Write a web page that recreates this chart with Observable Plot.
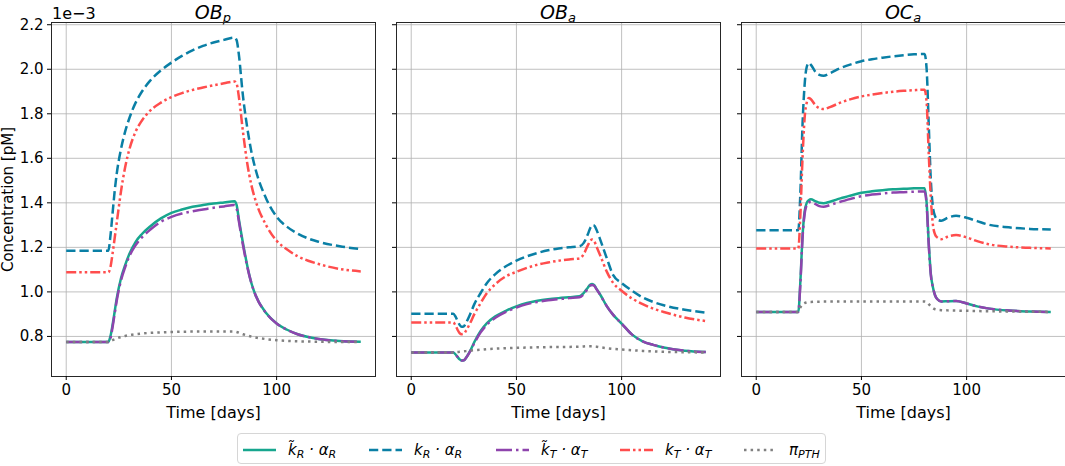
<!DOCTYPE html>
<html>
<head>
<meta charset="utf-8">
<script src="https://cdn.jsdelivr.net/npm/d3@7"></script>
<script src="https://cdn.jsdelivr.net/npm/@observablehq/plot@0.6"></script>
<style>
body { margin: 0; background: #fff; font-family: "DejaVu Sans", sans-serif; }
#fig { position: relative; width: 1065px; height: 466px; overflow: hidden; }
.panel { position: absolute; top: 0; }
.panel g[aria-label="x-axis label"] { font-size: 16px; }
.title { position: absolute; top: 1px; width: 120px; margin-left: -60px; text-align: center;
  font-style: italic; font-size: 19px; line-height: 22px; }
.title sub { font-size: 13px; vertical-align: -3px; line-height: 0; }
#offset { position: absolute; left: 52px; top: 4px; font-size: 16px; }
#legend { position: absolute; left: 237px; top: 433px; width: 589px; height: 31px;
  border: 1px solid #d6d6d6; border-radius: 4px; box-sizing: border-box; }
.item { position: absolute; top: 0; height: 31px; display: flex; align-items: center; }
.item svg { margin-right: 12px; }
.item span { font-style: italic; font-size: 15px; white-space: nowrap; }
.item sub { font-size: 11px; vertical-align: -3px; line-height: 0; font-style: italic; }
</style>
</head>
<body>
<div id="fig">
  <div id="offset">1e−3</div>
  <div class="title" style="left:213px">OB<sub>p</sub></div>
  <div class="title" style="left:558px">OB<sub>a</sub></div>
  <div class="title" style="left:903px">OC<sub>a</sub></div>
  <div id="legend"></div>
</div>
<script>
// concentrations in 1e-3 pM

// OB_p
const obpT      = [0, 20, 21, 22, 23, 24, 26, 28, 30, 33, 36, 40, 45, 50, 55, 60, 65, 70, 75, 80, 81, 82, 84, 86, 88, 90, 95, 100, 105, 110, 115, 120, 130, 140];
const obpKRtil  = [0.775, 0.775, 0.80, 0.85, 0.91, 0.97, 1.06, 1.12, 1.17, 1.225, 1.26, 1.295, 1.33, 1.355, 1.37, 1.382, 1.39, 1.397, 1.402, 1.407, 1.39, 1.33, 1.22, 1.12, 1.04, 0.985, 0.905, 0.858, 0.83, 0.81, 0.797, 0.788, 0.779, 0.776];
const obpKR     = [1.185, 1.185, 1.25, 1.35, 1.45, 1.53, 1.64, 1.72, 1.78, 1.85, 1.90, 1.95, 1.995, 2.03, 2.06, 2.085, 2.105, 2.12, 2.132, 2.142, 2.13, 2.07, 1.88, 1.74, 1.63, 1.55, 1.42, 1.338, 1.292, 1.262, 1.24, 1.225, 1.205, 1.192];
const obpKTtil  = [0.775, 0.775, 0.79, 0.84, 0.90, 0.96, 1.05, 1.11, 1.16, 1.21, 1.245, 1.28, 1.315, 1.337, 1.352, 1.362, 1.37, 1.378, 1.384, 1.39, 1.375, 1.32, 1.21, 1.115, 1.04, 0.985, 0.905, 0.858, 0.83, 0.81, 0.797, 0.788, 0.779, 0.776];
const obpKT     = [1.088, 1.088, 1.11, 1.17, 1.24, 1.31, 1.45, 1.56, 1.64, 1.72, 1.77, 1.815, 1.85, 1.875, 1.893, 1.907, 1.918, 1.928, 1.937, 1.945, 1.935, 1.88, 1.72, 1.58, 1.48, 1.41, 1.30, 1.23, 1.19, 1.16, 1.14, 1.125, 1.103, 1.092];
const obpPTH    = [0.775, 0.775, 0.778, 0.783, 0.787, 0.791, 0.797, 0.802, 0.806, 0.81, 0.813, 0.816, 0.818, 0.82, 0.821, 0.822, 0.822, 0.822, 0.822, 0.822, 0.82, 0.817, 0.81, 0.804, 0.799, 0.795, 0.788, 0.783, 0.78, 0.778, 0.777, 0.776, 0.775, 0.775];

// OB_a
const obaT      = [0, 20, 21, 22, 23, 24, 25, 26, 28, 30, 33, 36, 40, 45, 50, 55, 60, 65, 70, 75, 80, 82, 84, 85, 86, 87, 88, 90, 93, 96, 100, 105, 110, 115, 120, 130, 140];
const obaKRtil  = [0.728, 0.728, 0.72, 0.708, 0.697, 0.692, 0.693, 0.703, 0.735, 0.775, 0.825, 0.86, 0.89, 0.915, 0.935, 0.95, 0.96, 0.967, 0.972, 0.976, 0.98, 0.995, 1.02, 1.032, 1.035, 1.03, 1.015, 0.985, 0.935, 0.897, 0.858, 0.808, 0.778, 0.762, 0.75, 0.736, 0.73];
const obaKR     = [0.902, 0.902, 0.89, 0.87, 0.852, 0.843, 0.845, 0.86, 0.90, 0.945, 0.995, 1.04, 1.08, 1.115, 1.14, 1.16, 1.175, 1.187, 1.195, 1.20, 1.205, 1.22, 1.26, 1.285, 1.30, 1.298, 1.28, 1.23, 1.15, 1.075, 1.04, 1.005, 0.975, 0.955, 0.94, 0.92, 0.907];
const obaKTtil  = [0.728, 0.728, 0.72, 0.708, 0.697, 0.692, 0.693, 0.703, 0.733, 0.77, 0.818, 0.853, 0.884, 0.91, 0.93, 0.945, 0.955, 0.962, 0.967, 0.972, 0.976, 0.99, 1.016, 1.028, 1.031, 1.027, 1.013, 0.984, 0.935, 0.897, 0.858, 0.808, 0.778, 0.762, 0.75, 0.736, 0.73];
const obaKT     = [0.863, 0.863, 0.85, 0.83, 0.815, 0.81, 0.812, 0.825, 0.86, 0.90, 0.95, 0.995, 1.035, 1.07, 1.09, 1.108, 1.122, 1.132, 1.14, 1.146, 1.15, 1.17, 1.21, 1.228, 1.235, 1.228, 1.205, 1.16, 1.09, 1.04, 1.005, 0.97, 0.945, 0.925, 0.91, 0.885, 0.869];
const obaPTH    = [0.728, 0.728, 0.729, 0.73, 0.731, 0.732, 0.733, 0.734, 0.736, 0.738, 0.74, 0.743, 0.745, 0.747, 0.749, 0.75, 0.751, 0.752, 0.752, 0.753, 0.754, 0.755, 0.756, 0.756, 0.756, 0.755, 0.754, 0.751, 0.747, 0.744, 0.741, 0.738, 0.735, 0.733, 0.731, 0.729, 0.728];

// OC_a
const ocaT      = [0, 20, 21, 22, 23, 24, 25, 26, 28, 30, 32, 35, 40, 45, 50, 55, 60, 65, 70, 75, 80, 81, 82, 83, 84, 85, 86, 88, 91, 95, 100, 105, 110, 120, 130, 140];
const ocaKRtil  = [0.91, 0.91, 1.05, 1.25, 1.36, 1.40, 1.412, 1.416, 1.408, 1.40, 1.398, 1.405, 1.42, 1.433, 1.445, 1.452, 1.457, 1.461, 1.463, 1.465, 1.466, 1.40, 1.22, 1.08, 1.02, 0.985, 0.968, 0.957, 0.958, 0.959, 0.948, 0.935, 0.926, 0.916, 0.912, 0.91];
const ocaKR     = [1.277, 1.277, 1.45, 1.75, 1.93, 2.01, 2.028, 2.02, 1.99, 1.975, 1.971, 1.982, 2.005, 2.022, 2.036, 2.045, 2.052, 2.058, 2.063, 2.067, 2.069, 2.00, 1.75, 1.50, 1.38, 1.34, 1.325, 1.32, 1.333, 1.342, 1.333, 1.318, 1.303, 1.29, 1.283, 1.28];
const ocaKTtil  = [0.91, 0.91, 1.04, 1.24, 1.35, 1.39, 1.402, 1.405, 1.395, 1.385, 1.382, 1.39, 1.405, 1.418, 1.43, 1.437, 1.442, 1.446, 1.448, 1.45, 1.451, 1.39, 1.21, 1.075, 1.02, 0.985, 0.968, 0.957, 0.958, 0.959, 0.948, 0.935, 0.926, 0.916, 0.912, 0.91];
const ocaKT     = [1.195, 1.195, 1.35, 1.60, 1.78, 1.85, 1.871, 1.865, 1.84, 1.825, 1.821, 1.83, 1.85, 1.866, 1.878, 1.886, 1.893, 1.899, 1.903, 1.906, 1.908, 1.85, 1.62, 1.42, 1.30, 1.258, 1.245, 1.237, 1.248, 1.255, 1.245, 1.228, 1.215, 1.203, 1.198, 1.195];
const ocaPTH    = [0.91, 0.91, 0.93, 0.944, 0.95, 0.953, 0.955, 0.955, 0.956, 0.956, 0.957, 0.957, 0.957, 0.957, 0.957, 0.957, 0.957, 0.957, 0.957, 0.957, 0.957, 0.955, 0.945, 0.935, 0.927, 0.922, 0.92, 0.918, 0.917, 0.916, 0.915, 0.914, 0.913, 0.912, 0.911, 0.91];

const xTicks = [0, 50, 100];
const yTicks = [0.8, 1.0, 1.2, 1.4, 1.6, 1.8, 2.0, 2.2];

// line styles, in legend order
const styles = [
  {label: "k̃<sub>R</sub> · α<sub>R</sub>", stroke: "#17a68e", dash: null},
  {label: "k<sub>R</sub> · α<sub>R</sub>", stroke: "#0a7fa5", dash: "9.25,4"},
  {label: "k̃<sub>T</sub> · α<sub>T</sub>", stroke: "#8e44ad", dash: "16,4,2.5,4"},
  {label: "k<sub>T</sub> · α<sub>T</sub>", stroke: "#ff4d4d", dash: "10,3,2.5,3,2.5,3"},
  {label: "π<sub>PTH</sub>", stroke: "#808080", dash: "2.5,4.1"}
];

const fig = document.getElementById("fig");

function makePanel(t, cols, left, marginLeft, first) {
  const marks = [
    Plot.gridX(xTicks, {stroke: "#b0b0b0", strokeOpacity: 1, strokeWidth: 0.8}),
    Plot.gridY(yTicks, {stroke: "#b0b0b0", strokeOpacity: 1, strokeWidth: 0.8})
  ];
  cols.forEach((vals, i) => {
    const s = styles[i];
    const rows = t.map((d, j) => ({t: d, v: vals[j]}));
    marks.push(Plot.line(rows, {x: "t", y: "v", stroke: s.stroke, strokeWidth: 2.5,
      strokeDasharray: s.dash, curve: "monotone-x", strokeLinecap: "butt"}));
  });
  marks.push(Plot.frame({stroke: "#262626", strokeWidth: 1}));
  marks.push(Plot.axisX(xTicks, {tickSize: 4, tickPadding: 4, label: "Time [days]",
    labelAnchor: "center", labelArrow: "none", labelOffset: 41}));
  if (first) {
    marks.push(Plot.axisY(yTicks, {tickSize: 4, tickPadding: 4, tickFormat: d3.format(".1f"),
      label: "Concentration [pM]", labelAnchor: "center", labelArrow: "none", labelOffset: 49}));
  } else {
    marks.push(Plot.axisY(yTicks, {tickSize: 4, tickFormat: () => "", label: null}));
  }
  const plot = Plot.plot({
    width: marginLeft + 325,
    height: 422,
    marginLeft: marginLeft,
    marginRight: 1,
    marginTop: 22,
    marginBottom: 46,
    x: {domain: [-7, 147]},
    y: {domain: [0.62, 2.21]},
    style: {fontFamily: "DejaVu Sans, sans-serif", fontSize: "15px", color: "#000", background: "transparent", overflow: "visible"},
    marks
  });
  plot.classList.add("panel");
  plot.style.left = left + "px";
  fig.appendChild(plot);
}

makePanel(obpT, [obpKRtil, obpKR, obpKTtil, obpKT, obpPTH], 0, 51, true);
makePanel(obaT, [obaKRtil, obaKR, obaKTtil, obaKT, obaPTH], 380, 16, false);
makePanel(ocaT, [ocaKRtil, ocaKR, ocaKTtil, ocaKT, ocaPTH], 725, 16, false);

// legend
const legend = document.getElementById("legend");
const itemLeft = [5, 131, 258, 382, 506];
styles.forEach((s, i) => {
  const item = document.createElement("div");
  item.className = "item";
  item.style.left = itemLeft[i] + "px";
  item.innerHTML = `<svg width="33" height="6"><line x1="0" y1="3" x2="33" y2="3" stroke="${s.stroke}" stroke-width="2.5"${s.dash ? ` stroke-dasharray="${s.dash}"` : ""}/></svg><span>${s.label}</span>`;
  legend.appendChild(item);
});
</script>
</body>
</html>
